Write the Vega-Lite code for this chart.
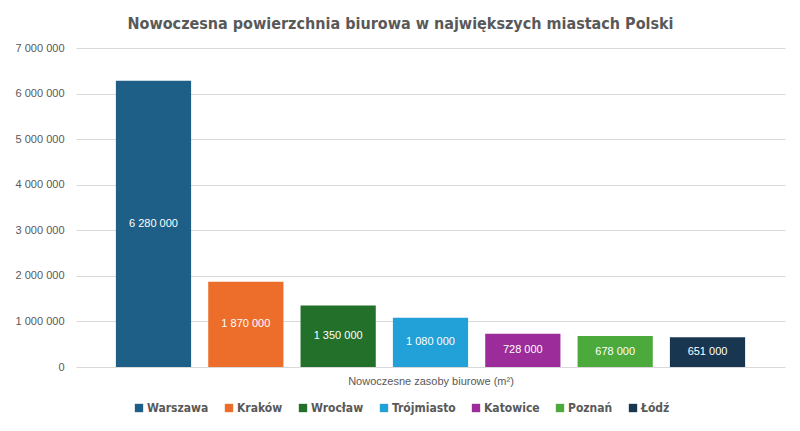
{
  "$schema": "https://vega.github.io/schema/vega-lite/v6.json",
  "autosize": {"type": "none"},
  "width": 709,
  "height": 319,
  "padding": {"left": 76, "top": 48, "right": 15, "bottom": 64},
  "background": "white",
  "config": {
    "locale": {"number": {"decimal": ",", "thousands": "\u00a0", "grouping": [3], "currency": ["", " zł"]}},
    "view": {"stroke": null},
    "font": "Liberation Sans"
  },
  "title": {
    "text": "Nowoczesna powierzchnia biurowa w największych miastach Polski",
    "font": "DejaVu Sans Condensed",
    "fontSize": 16,
    "fontWeight": "bold",
    "color": "#595959",
    "anchor": "middle",
    "frame": "group",
    "dx": -30,
    "offset": 10
  },
  "data": {
    "values": [
      {"city": "Warszawa", "value": 6280000},
      {"city": "Kraków", "value": 1870000},
      {"city": "Wrocław", "value": 1350000},
      {"city": "Trójmiasto", "value": 1080000},
      {"city": "Katowice", "value": 728000},
      {"city": "Poznań", "value": 678000},
      {"city": "Łódź", "value": 651000}
    ]
  },
  "encoding": {
    "x": {
      "field": "city",
      "type": "nominal",
      "sort": null,
      "scale": {"paddingInner": 0.1855, "paddingOuter": 0.432},
      "axis": {
        "title": "Nowoczesne zasoby biurowe (m²)",
        "labels": false,
        "ticks": false,
        "domain": false,
        "titleFont": "Liberation Sans",
        "titleFontSize": 11,
        "titleFontWeight": "normal",
        "titleColor": "#595959",
        "titlePadding": 8
      }
    }
  },
  "layer": [
    {
      "mark": {"type": "bar"},
      "encoding": {
        "y": {
          "field": "value",
          "type": "quantitative",
          "scale": {"domain": [0, 7000000]},
          "axis": {
            "title": null,
            "values": [0, 1000000, 2000000, 3000000, 4000000, 5000000, 6000000, 7000000],
            "format": ",d",
            "domain": false,
            "ticks": false,
            "labelPadding": 12,
            "labelFontSize": 11,
            "labelColor": "#595959",
            "gridColor": "#d9d9d9",
            "gridWidth": 1
          }
        },
        "color": {
          "field": "city",
          "type": "nominal",
          "sort": null,
          "scale": {
            "domain": ["Warszawa", "Kraków", "Wrocław", "Trójmiasto", "Katowice", "Poznań", "Łódź"],
            "range": ["#1d5f86", "#ec6e2a", "#22702a", "#22a0d8", "#9b2c9a", "#4ca93c", "#183650"]
          },
          "legend": {
            "title": null,
            "orient": "none",
            "direction": "horizontal",
            "legendX": 57,
            "legendY": 354,
            "symbolType": "square",
            "symbolSize": 70,
            "symbolStrokeWidth": 0,
            "labelFont": "DejaVu Sans Condensed",
            "labelFontSize": 12,
            "labelFontWeight": "bold",
            "labelColor": "#595959",
            "columnPadding": 14,
            "labelOffset": 2
          }
        }
      }
    },
    {
      "mark": {"type": "text", "color": "white", "fontSize": 11, "baseline": "middle"},
      "encoding": {
        "y": {"field": "value", "type": "quantitative", "scale": {"domain": [0, 14000000]}, "axis": null},
        "text": {"field": "value", "type": "quantitative", "format": ",d"}
      }
    }
  ],
  "resolve": {"scale": {"y": "independent"}}
}
